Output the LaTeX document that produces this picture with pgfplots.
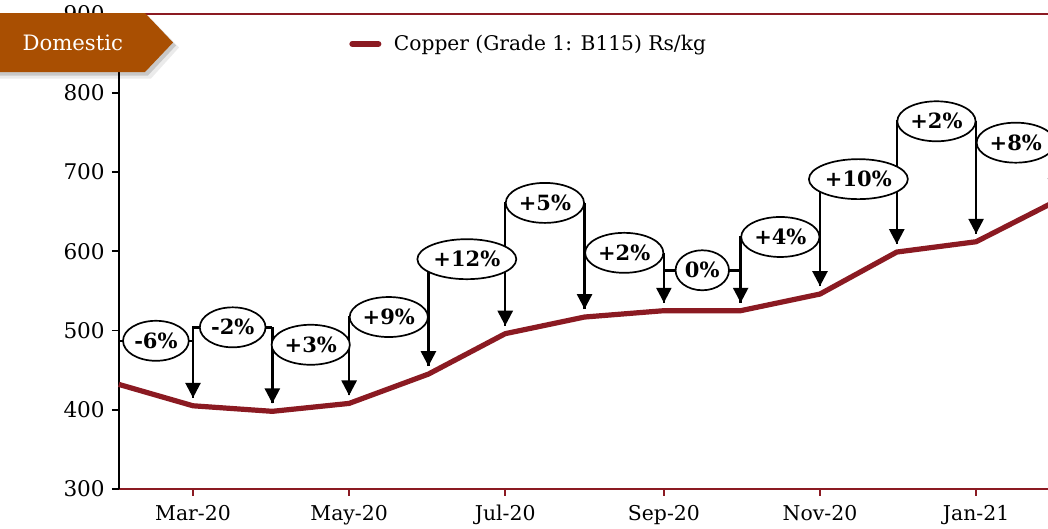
\documentclass[border=0pt]{standalone}
\usepackage{fontspec}
\setmainfont{DejaVu Serif}
\usepackage{pgfplots}
\usepackage{pgfplotstable}
\pgfplotsset{compat=1.18}
\usetikzlibrary{arrows.meta,shapes.geometric}
\definecolor{cuRed}{HTML}{8B1A22}
\definecolor{bannerBrown}{HTML}{A94F02}

% x = days since 1 Feb 2020
\pgfplotstableread{
x   y
0   432
29  405
60  398
90  408
121 445
151 496
182 517
213 525
243 525
274 546
304 599
335 612
366 663
}\copper

\newcommand{\annline}[5]{% x0 x1 level tip0 tip1
  \draw[line width=1.25pt] (axis cs:#1,#4) -- (axis cs:#1,#3) -- (axis cs:#2,#3);
  \draw[line width=1.25pt,-{Triangle[width=7.5pt,length=7.5pt]}] (axis cs:#2,#3) -- (axis cs:#2,#5);
}
\newcommand{\annlabel}[3]{% xc level text
  \node[ellipse, draw, line width=0.85pt, fill=white, inner xsep=0.8pt, inner ysep=0pt,
        minimum height=20pt, font=\fontsize{10.5}{12}\selectfont\bfseries]
    at (axis cs:#1,#2) {#3};
}

\begin{document}
\begin{tikzpicture}
\begin{axis}[
  width=464.6pt, height=237.75pt, scale only axis,
  xmin=0, xmax=363.1, ymin=300, ymax=900,
  axis x line*=bottom, axis y line*=left,
  x axis line style={draw=cuRed, line width=1pt, -},
  y axis line style={draw=black, line width=1pt, -},
  xtick={29,90,151,213,274,335},
  xticklabels={Mar-20,May-20,Jul-20,Sep-20,Nov-20,Jan-21},
  ytick={300,400,...,900},
  tick align=outside,
  major tick length=3.5pt,
  x tick style={draw=cuRed, line width=0.8pt},
  y tick style={draw=black, line width=0.8pt},
  tick label style={text=black},
  xticklabel style={font=\fontsize{10.2}{12}\selectfont, yshift=-1pt},
  yticklabel style={font=\fontsize{10.8}{12}\selectfont},
  /pgf/number format/assume math mode=true,
  clip=false,
  legend style={at={(0.2477,0.936)}, anchor=west, draw=none, fill=none,
    inner sep=0pt, font=\fontsize{10.1}{12}\selectfont, cells={anchor=west}},
  legend image code/.code={\draw[line width=3pt, line cap=round, cuRed] (1.5pt,0pt) -- (14.5pt,0pt);
    \path (19pt,0pt);},
]
\addplot[cuRed, line width=2.6pt, line join=round] table[x=x,y=y] {\copper};
\addlegendentry{Copper (Grade 1: B115) Rs/kg}

\draw[cuRed, line width=1pt] (rel axis cs:0,1) -- (rel axis cs:1,1);
\coordinate (bl) at (rel axis cs:0,0);
\coordinate (tr) at (rel axis cs:1,1);

\draw[line width=1.25pt] (axis cs:0,487) -- (axis cs:29,487);
\draw[line width=1.25pt,-{Triangle[width=7.5pt,length=7.5pt]}] (axis cs:29,487) -- (axis cs:29,415);
\annline{29}{60}{504}{415}{408}
\annline{60}{90}{482}{408}{418}
\annline{90}{121}{517}{418}{455}
\annline{121}{151}{590}{455}{506}
\annline{151}{182}{661}{506}{527}
\annline{182}{213}{598}{527}{535}
\annline{213}{243}{576}{535}{535}
\annline{243}{274}{618}{535}{556}
\annline{274}{304}{691}{556}{609}
\annline{304}{335}{764}{609}{622}
\annline{335}{366}{737}{622}{673}

\annlabel{14.5}{487}{-6\%}
\annlabel{44.5}{504}{-2\%}
\annlabel{75}{482}{+3\%}
\annlabel{105.5}{517}{+9\%}
\annlabel{136}{590}{+12\%}
\annlabel{166.5}{661}{+5\%}
\annlabel{197.5}{598}{+2\%}
\annlabel{228}{576}{0\%}
\annlabel{258.5}{618}{+4\%}
\annlabel{289}{691}{+10\%}
\annlabel{319.5}{764}{+2\%}
\annlabel{350.5}{737}{+8\%}
\end{axis}

\begin{scope}[shift={(bl|-tr)}]
  \fill[black, opacity=0.08] (-59.4pt,-2.5pt) -- (16.1pt,-2.5pt) -- (30.1pt,-17pt)
    -- (16.1pt,-32.5pt) -- (-59.4pt,-32.5pt) -- cycle;
  \fill[black, opacity=0.15] (-59.4pt,-1.5pt) -- (14.6pt,-1.5pt) -- (28.6pt,-16pt)
    -- (14.6pt,-31pt) -- (-59.4pt,-31pt) -- cycle;
  \fill[bannerBrown] (-59.4pt,0.25pt) -- (13.1pt,0.25pt) -- (27.1pt,-14.5pt)
    -- (13.1pt,-29.25pt) -- (-59.4pt,-29.25pt) -- cycle;
  \node[text=white, font=\fontsize{10.6}{12}\selectfont] at (-23pt,-14.5pt) {Domestic};
\end{scope}

\pgfresetboundingbox
\path[use as bounding box] ([xshift=-59.4pt,yshift=-20pt]bl) rectangle ([yshift=6.75pt]tr);
\end{tikzpicture}
\end{document}
